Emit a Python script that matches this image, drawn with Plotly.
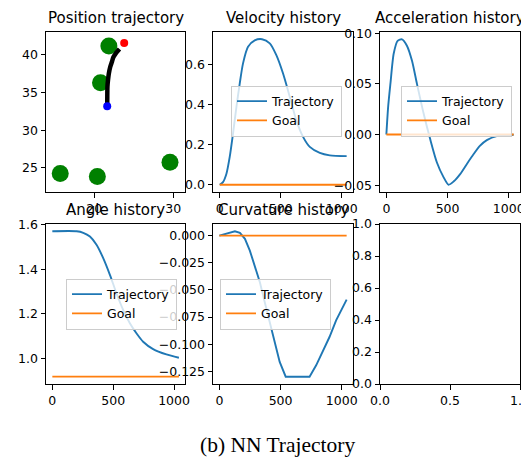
import plotly.graph_objects as go

# ---------------- data ----------------
obs_x = [15.7, 20.4, 29.6, 21.86, 20.8]
obs_y = [24.25, 23.85, 25.75, 41.2, 36.3]
path_x = [21.65, 21.66, 21.68, 21.75, 21.85, 22.03, 22.25, 22.44, 22.8, 23.2]
path_y = [33.2, 34.5, 35.8, 36.65, 37.5, 38.4, 39.1, 39.74, 40.3, 40.8]
start_xy = [21.65, 33.2]
goal_xy = [23.8, 41.6]

t_vel = [0, 27, 55, 82, 109, 137, 164, 191, 232, 287, 347, 410, 464, 519, 574, 628, 683, 738, 820, 902, 1040]
vel = [0, 0.013, 0.055, 0.139, 0.256, 0.39, 0.506, 0.607, 0.69, 0.722, 0.728, 0.707, 0.648, 0.556, 0.44,
       0.322, 0.239, 0.189, 0.159, 0.147, 0.143]

t_acc = [0, 15, 33, 60, 92, 128, 168, 209, 250, 304, 359, 413, 467, 508, 549, 603, 658, 712, 766, 821, 902, 1040]
acc = [0, 0.028, 0.050, 0.080, 0.0925, 0.094, 0.0877, 0.073, 0.050, 0.021, -0.005, -0.0276, -0.042, -0.0495,
       -0.0464, -0.039, -0.029, -0.0195, -0.011, -0.0055, -0.0016, -0.0002]

t_ang = [0, 200, 254, 309, 363, 418, 473, 527, 582, 637, 691, 746, 828, 937, 1040]
ang = [1.5708, 1.5708, 1.564, 1.547, 1.51, 1.45, 1.375, 1.292, 1.217, 1.157, 1.112, 1.074, 1.041, 1.017, 1.002]

t_cur = [0, 46, 87, 127, 168, 209, 249, 290, 331, 371, 412, 452, 493, 542, 737, 791, 846, 900, 954, 1040]
cur = [0, 0.0015, 0.003, 0.004, 0.0025, -0.003, -0.0138, -0.0276, -0.0429, -0.0613, -0.0797, -0.098, -0.1164,
       -0.130, -0.130, -0.1195, -0.107, -0.0934, -0.078, -0.059]

t_goal = [0, 1040]
goal_vel = [0, 0]
goal_acc = [0, 0]
goal_ang = [0.917, 0.917]
goal_cur = [0, 0]

titles = ["Position trajectory", "Velocity history", "Acceleration history",
          "Angle history", "Curvature history"]

# ---------------- layout helpers ----------------
PAGE_W, PAGE_H = 529, 466
OFF = 8  # default body margin of the html page
W, H = PAGE_W - OFF, PAGE_H - OFF
cols = [(46, 185), (213, 353), (380, 520)]   # page pixels
rows = [(32, 192), (224, 384)]

BLUE = "#1f77b4"
ORANGE = "#ff7f0e"
FONT = "DejaVu Sans"

def px(X):
    return (X - OFF) / W

def py(Y):
    return 1 - (Y - OFF) / H

def xd(c):
    return [px(cols[c][0]), px(cols[c][1])]

def yd(r):
    return [py(rows[r][1]), py(rows[r][0])]

fig = go.Figure()

# position
fig.add_trace(go.Scatter(x=obs_x, y=obs_y, mode="markers", marker=dict(color="green", size=17),
                         showlegend=False, xaxis="x", yaxis="y"))
fig.add_trace(go.Scatter(x=path_x, y=path_y, mode="lines", line=dict(color="black", width=4.5, shape="spline"),
                         showlegend=False, xaxis="x", yaxis="y"))
fig.add_trace(go.Scatter(x=[start_xy[0]], y=[start_xy[1]], mode="markers", marker=dict(color="blue", size=8),
                         showlegend=False, xaxis="x", yaxis="y"))
fig.add_trace(go.Scatter(x=[goal_xy[0]], y=[goal_xy[1]], mode="markers", marker=dict(color="red", size=8),
                         showlegend=False, xaxis="x", yaxis="y"))

series = [
    (t_vel, vel, goal_vel, "x2", "y2", "legend", 0.7),
    (t_acc, acc, goal_acc, "x3", "y3", "legend2", 0.7),
    (t_ang, ang, goal_ang, "x4", "y4", "legend3", 0.7),
    (t_cur, cur, goal_cur, "x5", "y5", "legend4", 0.0),
]
for t, v, g, xa, ya, lg, sm in series:
    line = dict(color=BLUE, width=1.9)
    if sm > 0:
        line.update(shape="spline", smoothing=sm)
    fig.add_trace(go.Scatter(x=t, y=v, mode="lines", name="Trajectory", line=line,
                             xaxis=xa, yaxis=ya, legend=lg))
    fig.add_trace(go.Scatter(x=t_goal, y=g, mode="lines", name="Goal",
                             line=dict(color=ORANGE, width=1.9),
                             xaxis=xa, yaxis=ya, legend=lg))

# empty sixth panel
fig.add_trace(go.Scatter(x=[], y=[], mode="lines", showlegend=False, xaxis="x6", yaxis="y6"))

axcommon = dict(showline=True, mirror=True, linecolor="black", linewidth=1,
                ticks="outside", ticklen=4.5, tickwidth=1, tickcolor="black",
                showgrid=False, zeroline=False, automargin=False, ticklabeloverflow="allow",
                tickfont=dict(family=FONT, size=12.5, color="black"))

specs = [
    ("", 0, 0, [13.9, 31.5], [21.8, 43.05], [20, 30], [25, 30, 35, 40], "d", "d"),
    ("2", 1, 0, [-55, 1092], [-0.0365, 0.764], [0, 500, 1000], [0, 0.2, 0.4, 0.6], "d", ".1f"),
    ("3", 2, 0, [-52, 1092], [-0.0567, 0.1012], [0, 500, 1000], [-0.05, 0, 0.05, 0.10], "d", ".2f"),
    ("4", 0, 1, [-52, 1090], [0.884, 1.6035], [0, 500, 1000], [1.0, 1.2, 1.4, 1.6], "d", ".1f"),
    ("5", 1, 1, [-52, 1092], [-0.1367, 0.0107], [0, 500, 1000],
     [0, -0.025, -0.05, -0.075, -0.1, -0.125], "d", ".3f"),
    ("6", 2, 1, [0, 1], [0, 1], [0, 0.5, 1.0], [0, 0.2, 0.4, 0.6, 0.8, 1.0], ".1f", ".1f"),
]
lay = {}
for idx, c, r, xr, yr, xt, yt, xf, yf in specs:
    lay["xaxis" + idx] = dict(axcommon, domain=xd(c), range=xr, tickvals=xt, tickformat=xf,
                              anchor="y" + idx)
    lay["yaxis" + idx] = dict(axcommon, domain=yd(r), range=yr, tickvals=yt, tickformat=yf,
                              anchor="x" + idx)

annotations = []
for i, ttl in enumerate(titles):
    c, r = i % 3, i // 3
    annotations.append(dict(text=ttl, x=px((cols[c][0] + cols[c][1]) / 2), y=yd(r)[1],
                            xref="paper", yref="paper", xanchor="center", yanchor="bottom",
                            yshift=3, showarrow=False,
                            font=dict(family=FONT, size=15, color="black")))
annotations.append(dict(text="(b) NN Trajectory", x=px(278), y=py(459), xref="paper", yref="paper",
                        xanchor="center", yanchor="bottom", showarrow=False,
                        font=dict(family="Liberation Serif", size=21.5, color="black")))

def legend_box(x, y, xanchor):
    return dict(x=px(x), y=py(y), xanchor=xanchor, yanchor="middle", xref="paper", yref="paper",
                bgcolor="rgba(255,255,255,0.8)", bordercolor="#cccccc", borderwidth=1,
                font=dict(family=FONT, size=12.5, color="black"), itemwidth=30,
                tracegroupgap=0)

fig.update_layout(
    width=W, height=H, margin=dict(l=0, r=0, t=0, b=0, autoexpand=False),
    paper_bgcolor="white", plot_bgcolor="white",
    annotations=annotations,
    legend=legend_box(342, 111, "right"),
    legend2=legend_box(512, 111, "right"),
    legend3=legend_box(177, 304, "right"),
    legend4=legend_box(220, 304, "left"),
    **lay,
)

fig.write_html("out.html")
